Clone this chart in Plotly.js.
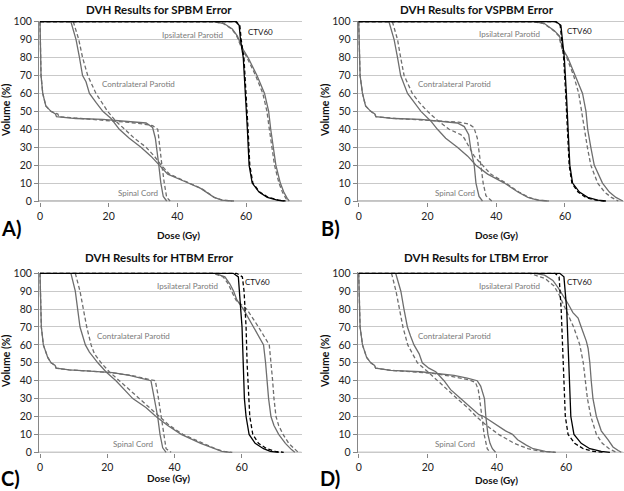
<!DOCTYPE html>
<html><head><meta charset="utf-8">
<script src="https://cdn.plot.ly/plotly-3.0.1.min.js"></script>
<style>html,body{margin:0;padding:0;background:#fff}#chart{width:624px;height:491px}</style>
</head><body><div id="chart"></div>
<script>
// ---------- text ----------
const titles = ['DVH Results for SPBM Error', 'DVH Results for VSPBM Error', 'DVH Results for HTBM Error', 'DVH Results for LTBM Error'];
const panelLabels = ['A)', 'B)', 'C)', 'D)'];
const organNames = ['Ipsilateral Parotid', 'CTV60', 'Contralateral Parotid', 'Spinal Cord'];
const xTitle = 'Dose (Gy)';
const yTitle = 'Volume (%)';
const yTicks = [0, 10, 20, 30, 40, 50, 60, 70, 80, 90, 100];
const xTicks = [0, 20, 40, 60];

// ---------- A) SPBM ----------
const spbmCordPlanDose = [0, 0.3, 0.8, 1.7, 3.2, 4.5, 4.8, 10.5, 18.3, 26, 30.9, 32.8, 33.6, 34.6, 35.2, 35.9, 36.9];
const spbmCordPlanVol  = [100, 70, 60, 53, 50, 48.5, 47, 46, 45.5, 44.5, 43.5, 41, 35, 20, 10, 2.5, 0];
const spbmCordErrDose  = [0, 0.3, 0.8, 1.7, 3.2, 5.2, 5.5, 12.5, 19.5, 25, 29.9, 32.8, 34.3, 34.8, 35.5, 36.2, 36.9, 37.9];
const spbmCordErrVol   = [100, 70, 60, 53, 50, 48.5, 47, 46, 45, 44, 43, 42, 40, 30, 20, 10, 2, 0];
const spbmContraPlanDose = [9, 10.5, 11.5, 12.4, 13.4, 14.4, 16.3, 18.3, 20.7, 23.1, 26, 29.4, 32.3, 34.8, 37.2, 42, 46.8, 50.7, 53, 56];
const spbmContraPlanVol  = [100, 90, 80, 70, 66.5, 60, 55, 50, 46, 40, 35, 30, 25, 20, 15, 11, 7, 2, 0.5, 0];
const spbmContraErrDose  = [9.7, 11.3, 12.4, 13.9, 16.3, 19.7, 22.1, 24.6, 27.5, 30.9, 33.3, 35.3, 37.7, 42.3, 47, 50.8, 53.2, 56.5];
const spbmContraErrVol   = [100, 90, 80, 70, 60, 50, 44.5, 40, 35, 30, 25, 20, 15, 11, 7, 2, 0.5, 0];
const spbmIpsiPlanDose = [0, 50.7, 53.6, 56, 57.5, 59, 60.6, 63.2, 65.4, 66.6, 67.2, 67.9, 68.7, 70, 71, 72, 72.6];
const spbmIpsiPlanVol  = [100, 100, 99, 96, 92, 85, 80, 70, 60, 50, 40, 30, 20, 10, 5, 1.5, 0];
const spbmIpsiErrDose  = [0, 50.5, 53.4, 55.8, 57.3, 58.8, 60.3, 62.8, 64.9, 66.1, 66.8, 67.5, 68.3, 69.6, 70.6, 71.6, 72.3];
const spbmIpsiErrVol   = [100, 100, 99, 96, 92, 85, 80, 70, 60, 50, 40, 30, 20, 10, 5, 1.5, 0];
const spbmCtvPlanDose = [0, 57, 58, 58.4, 59.2, 59.9, 60.4, 60.9, 61.8, 63.8, 66.2, 69.1, 71];
const spbmCtvPlanVol  = [100, 100, 98, 90, 80, 60, 40, 20, 10, 5, 2, 0.5, 0];
const spbmCtvErrDose  = [0, 57.2, 58.2, 58.6, 59.4, 60.1, 60.6, 61.1, 62, 64, 66.5, 69.5, 71.5];
const spbmCtvErrVol   = [100, 100, 98, 90, 80, 60, 40, 20, 10, 5, 2, 0.5, 0];

// ---------- B) VSPBM ----------
const vspbmCordPlanDose = [0, 0.4, 1.1, 2, 3.5, 4.7, 5, 10.3, 18, 23.9, 28.7, 30.7, 32, 32.6, 33.6, 34.1, 35, 36];
const vspbmCordPlanVol  = [100, 70, 60, 53, 50, 48.5, 47, 46, 45.5, 44.5, 43.5, 41.5, 37, 29, 20, 10, 2.5, 0];
const vspbmCordErrDose  = [0, 0.4, 1.1, 2, 3.5, 4.7, 5, 11, 20, 26, 29, 32, 33.5, 34.5, 35, 35.5, 36.2, 37, 38.7];
const vspbmCordErrVol   = [100, 70, 60, 53, 50, 48.5, 47, 46, 45, 44.5, 44, 43, 41, 35, 28, 20, 10, 3, 0];
const vspbmContraPlanDose = [8.8, 10.3, 11.3, 12.2, 14.2, 16.1, 18.1, 21, 22.9, 25.3, 28.7, 31.7, 34.1, 37.5, 42.4, 46.3, 49.2, 52, 55];
const vspbmContraPlanVol  = [100, 90, 80, 70, 60, 55, 50, 44.5, 40, 35, 30, 25, 20, 15, 10, 5, 2, 0.5, 0];
const vspbmContraErrDose  = [9.8, 11.3, 12.2, 13.2, 15.6, 17.6, 20, 22.9, 26.3, 29.7, 30.7, 32.1, 33.6, 36, 38.4, 42.8, 46.6, 49.5, 52.3, 55.3];
const vspbmContraErrVol   = [100, 90, 80, 70, 60, 55, 50, 45, 40, 37, 35, 30, 25, 20, 15, 10, 5, 2, 0.5, 0];
const vspbmIpsiPlanDose = [0, 51, 54, 56.9, 58.4, 59.3, 60.8, 62.9, 65.1, 66.1, 66.6, 67.5, 68.5, 70.9, 72.9, 74.8, 76.2, 76.8];
const vspbmIpsiPlanVol  = [100, 100, 99, 95, 92, 85, 80, 70, 60, 50, 40, 30, 20, 10, 5, 2, 0.5, 0];
const vspbmIpsiErrDose  = [0, 50.8, 53.8, 56.7, 58.2, 59.1, 60.5, 62.5, 64, 64.8, 65.5, 66.5, 67.5, 69.5, 71.5, 73.5, 75, 75.5];
const vspbmIpsiErrVol   = [100, 100, 99, 95, 92, 85, 80, 70, 60, 50, 40, 30, 20, 10, 5, 2, 0.5, 0];
const vspbmCtvPlanDose = [0, 57.4, 58.8, 59.3, 59.8, 60.4, 60.8, 61.4, 62.2, 64.2, 66.6, 69.5, 71.9];
const vspbmCtvPlanVol  = [100, 100, 98, 90, 80, 60, 40, 20, 10, 5, 2, 0.5, 0];
const vspbmCtvErrDose  = [0, 57.2, 58.6, 59.1, 59.6, 60.2, 60.6, 61.2, 62, 63.8, 66, 69, 71.5];
const vspbmCtvErrVol   = [100, 100, 98, 90, 80, 60, 40, 20, 10, 5, 2, 0.5, 0];

// ---------- C) HTBM ----------
const htbmCordPlanDose = [0, 0.4, 1, 2.3, 3.3, 4.5, 4.8, 8.7, 13.7, 21.6, 26.6, 31.5, 33, 33.7, 35, 35.7, 36.5, 37.5];
const htbmCordPlanVol  = [100, 70, 60, 53, 50, 48.5, 47, 46, 45.5, 44.5, 43, 41, 40, 33, 20, 10, 2.5, 0];
const htbmCordErrDose  = [0, 0.4, 1, 2.3, 3.3, 4.5, 4.8, 8.7, 13.7, 21, 27, 32, 34.3, 35, 36, 36.8, 37.5, 39];
const htbmCordErrVol   = [100, 70, 60, 53, 50, 48.5, 47, 46, 45.5, 44.5, 43, 41, 40, 33, 20, 10, 2, 0];
const htbmContraPlanDose = [9.2, 10.5, 11.2, 11.9, 13.5, 14.7, 17.2, 19.6, 22.6, 25.1, 27.6, 31.5, 34.5, 38, 42, 47.8, 51.7, 54.1, 56.6];
const htbmContraPlanVol  = [100, 90, 80, 70, 60, 56, 50, 45, 40, 35, 30, 25, 20, 15, 10, 5, 2, 0.5, 0];
const htbmContraErrDose  = [10.5, 11.9, 12.9, 13.9, 15.2, 16.2, 18.2, 20.6, 23.6, 26.6, 29.6, 32.5, 35.5, 38.5, 42.5, 48.3, 52.2, 54.6, 57.2];
const htbmContraErrVol   = [100, 90, 80, 70, 60, 55, 50, 45, 40, 35, 30, 25, 20, 15, 10, 5, 2, 0.5, 0];
const htbmIpsiPlanDose = [0, 52, 55, 56.5, 57.6, 58.6, 60.5, 63.6, 66.5, 67.1, 67.5, 68, 68.7, 69.6, 71, 73, 74.8, 75.8];
const htbmIpsiPlanVol  = [100, 100, 98, 94, 90, 85, 80, 70, 60, 50, 40, 30, 20, 15, 10, 5, 1.5, 0];
const htbmIpsiErrDose  = [0, 51.5, 54.5, 56, 57, 58.3, 61.5, 65, 68.2, 68.8, 69.2, 69.6, 70.2, 71, 72.3, 74, 75.8, 76.8];
const htbmIpsiErrVol   = [100, 100, 98, 94, 90, 85, 80, 70, 60, 50, 40, 30, 20, 15, 10, 5, 1.5, 0];
const htbmCtvPlanDose = [0, 57.5, 59, 59.4, 59.7, 60.1, 60.4, 60.8, 61.3, 62.2, 64, 66.5, 68.5, 71];
const htbmCtvPlanVol  = [100, 100, 98, 90, 80, 70, 50, 30, 20, 10, 5, 2, 0.5, 0];
const htbmCtvErrDose  = [0, 58.5, 60.2, 60.7, 61, 61.3, 61.6, 62, 62.4, 63.3, 65, 67.5, 70, 72.5];
const htbmCtvErrVol   = [100, 100, 98, 90, 80, 70, 50, 30, 20, 10, 5, 2, 0.5, 0];

// ---------- D) LTBM ----------
const ltbmCordPlanDose = [0, 0.4, 1.1, 2.3, 3.5, 4.6, 4.9, 9.3, 17.9, 22.8, 27.6, 31.4, 34.3, 35.3, 36.4, 36.8, 37.4, 38, 38.7, 39.6];
const ltbmCordPlanVol  = [100, 70, 60, 53, 50, 48.5, 47, 45.8, 45, 44.2, 43, 41.5, 40, 37, 30, 20, 10, 5, 2, 0];
const ltbmCordErrDose  = [0, 0.4, 1.1, 2.3, 3.5, 4.6, 4.9, 9.3, 15, 22, 28, 32, 33.8, 34.6, 35, 35.6, 36.3, 37.2, 38];
const ltbmCordErrVol   = [100, 70, 60, 53, 50, 48.5, 47, 45.8, 45, 44, 42, 40.5, 39, 35, 30, 20, 10, 2, 0];
const ltbmContraPlanDose = [10.7, 12.2, 13.1, 14.1, 15, 16, 17.5, 18.4, 20.3, 22.3, 24.7, 26.6, 29.5, 32.4, 34.8, 36.2, 37.4, 40, 42.5, 44.5, 46, 48.5, 50.5, 54, 57];
const ltbmContraPlanVol  = [100, 90, 80, 70, 65, 60, 55, 50, 47, 45, 40, 35, 30, 25, 21, 20, 18.5, 15, 12, 10, 7, 4, 2, 0.5, 0];
const ltbmContraErrDose  = [9.5, 10.8, 11.8, 12.8, 14.2, 15.5, 17, 20, 22.8, 25.5, 28.5, 31.5, 34, 37, 40.5, 45, 49, 53, 57];
const ltbmContraErrVol   = [100, 90, 80, 70, 60, 55, 50, 45, 40, 35, 30, 25, 20, 15, 10, 5, 2, 0.5, 0];
const ltbmIpsiPlanDose = [0, 50.9, 53.8, 56.2, 57.7, 59.1, 60.6, 62, 63.5, 64.4, 65.9, 66.4, 66.9, 67.3, 67.8, 68.8, 70.2, 72.2, 73.6, 75.1, 76];
const ltbmIpsiPlanVol  = [100, 100, 99, 96, 92, 88, 83, 78, 75, 70, 62, 58, 50, 40, 30, 20, 12, 7, 3, 1, 0];
const ltbmIpsiErrDose  = [0, 49.5, 54, 56.5, 58, 59.8, 62.2, 64, 65, 65.6, 66.2, 67.2, 68.8, 70.5, 72.5, 74.5];
const ltbmIpsiErrVol   = [100, 100, 97, 93, 88, 80, 70, 60, 50, 40, 30, 20, 10, 5, 2, 0];
const ltbmCtvPlanDose = [0, 58.2, 59.4, 59.8, 60.2, 60.6, 60.9, 61.4, 62.3, 64.4, 66.9, 70.2, 72.7];
const ltbmCtvPlanVol  = [100, 100, 98, 90, 80, 60, 40, 20, 10, 5, 2, 0.5, 0];
const ltbmCtvErrDose  = [0, 56.8, 58, 58.3, 58.6, 59, 59.3, 59.8, 60.6, 62.5, 65, 68, 71];
const ltbmCtvErrVol   = [100, 100, 98, 90, 80, 60, 40, 20, 10, 5, 2, 0.5, 0];

// curve-label anchor points (data coords): [dose, volume] per organ name, per panel
const labelPosA = [[44.4, 92.8], [64.3, 94], [28.7, 65], [28.6, 4.6]];
const labelPosB = [[43.9, 93.2], [64.1, 95], [27.8, 65.4], [28, 4.6]];
const labelPosC = [[44, 93], [64.7, 95], [27.7, 65.1], [27.8, 4.5]];
const labelPosD = [[43.7, 93], [63.9, 95], [27.7, 65.1], [28, 4.5]];

// ---------- build ----------
const W = 624, H = 491;
const FONT = 'Lato, "Open Sans", Arial, sans-serif';
const GRAY = '#6e6e6e', BLACK = '#000000', AXIS = '#868686', GRID = '#c9c9c9';

const panelData = [
  [[spbmIpsiPlanDose, spbmIpsiPlanVol, spbmIpsiErrDose, spbmIpsiErrVol],
   [spbmContraPlanDose, spbmContraPlanVol, spbmContraErrDose, spbmContraErrVol],
   [spbmCordPlanDose, spbmCordPlanVol, spbmCordErrDose, spbmCordErrVol],
   [spbmCtvPlanDose, spbmCtvPlanVol, spbmCtvErrDose, spbmCtvErrVol]],
  [[vspbmIpsiPlanDose, vspbmIpsiPlanVol, vspbmIpsiErrDose, vspbmIpsiErrVol],
   [vspbmContraPlanDose, vspbmContraPlanVol, vspbmContraErrDose, vspbmContraErrVol],
   [vspbmCordPlanDose, vspbmCordPlanVol, vspbmCordErrDose, vspbmCordErrVol],
   [vspbmCtvPlanDose, vspbmCtvPlanVol, vspbmCtvErrDose, vspbmCtvErrVol]],
  [[htbmIpsiPlanDose, htbmIpsiPlanVol, htbmIpsiErrDose, htbmIpsiErrVol],
   [htbmContraPlanDose, htbmContraPlanVol, htbmContraErrDose, htbmContraErrVol],
   [htbmCordPlanDose, htbmCordPlanVol, htbmCordErrDose, htbmCordErrVol],
   [htbmCtvPlanDose, htbmCtvPlanVol, htbmCtvErrDose, htbmCtvErrVol]],
  [[ltbmIpsiPlanDose, ltbmIpsiPlanVol, ltbmIpsiErrDose, ltbmIpsiErrVol],
   [ltbmContraPlanDose, ltbmContraPlanVol, ltbmContraErrDose, ltbmContraErrVol],
   [ltbmCordPlanDose, ltbmCordPlanVol, ltbmCordErrDose, ltbmCordErrVol],
   [ltbmCtvPlanDose, ltbmCtvPlanVol, ltbmCtvErrDose, ltbmCtvErrVol]]
];
const labelPos = [labelPosA, labelPosB, labelPosC, labelPosD];

// pixel geometry of each panel (layout only)
const geo = [
  {x0: 40, x60: 246, xr: 302, y0: 201, y100: 21.7, t: [158.5, 10], yt: [6, 111], xt: [178, 235], l: [11, 228]},
  {x0: 358.7, x60: 565, xr: 623.5, y0: 201, y100: 21.7, t: [477, 10], yt: [325, 111], xt: [497, 235], l: [330, 228]},
  {x0: 40, x60: 241.7, xr: 301.7, y0: 452.3, y100: 273.3, t: [159, 257], yt: [6, 362], xt: [168, 478], l: [10, 478]},
  {x0: 358.7, x60: 566, xr: 623.5, y0: 452.3, y100: 273.3, t: [476, 257], yt: [325, 362], xt: [497, 480], l: [330, 478]}
];

const traces = [];
const layout = {
  width: W, height: H, margin: {l: 0, r: 0, t: 0, b: 0},
  paper_bgcolor: '#fff', plot_bgcolor: '#fff', showlegend: false,
  font: {family: FONT, size: 10.5, color: '#222'},
  annotations: [], shapes: []
};
const XL = -0.3, YB = -0.6, YT = 100.6;

geo.forEach((g, i) => {
  const n = i + 1;
  const xs = n === 1 ? 'x' : 'x' + n, ys = n === 1 ? 'y' : 'y' + n;
  const sx = (g.x60 - g.x0) / 60;
  const sy = (g.y0 - g.y100) / 100;
  const xmax = (g.xr - g.x0) / sx;
  const left = g.x0 + XL * sx, right = g.xr;
  const bottom = g.y0 - YB * sy, top = g.y100 - (YT - 100) * sy;
  layout['xaxis' + (n === 1 ? '' : n)] = {
    domain: [left / W, right / W], range: [XL, xmax], anchor: ys,
    tickvals: xTicks, ticks: 'outside', ticklen: 4, tickcolor: AXIS,
    showgrid: false, zeroline: false, showline: false,
    tickfont: {family: FONT, size: 10.5, color: '#222'}
  };
  layout['yaxis' + (n === 1 ? '' : n)] = {
    domain: [1 - bottom / H, 1 - top / H], range: [YB, YT], anchor: xs,
    tickvals: yTicks, ticks: 'outside', ticklen: 4, tickcolor: AXIS,
    showgrid: true, gridcolor: GRID, gridwidth: 1, zeroline: false,
    showline: true, linecolor: AXIS, linewidth: 1,
    tickfont: {family: FONT, size: 10.5, color: '#222'}
  };
  // horizontal axis line at 0
  layout.shapes.push({type: 'line', xref: xs, yref: ys, x0: XL, x1: xmax, y0: 0, y1: 0,
    line: {color: AXIS, width: 1}, layer: 'below'});

  const curves = panelData[i];
  curves.forEach((c, k) => {
    const col = k === 3 ? BLACK : GRAY;
    traces.push({x: c[0], y: c[1], xaxis: xs, yaxis: ys, type: 'scatter', mode: 'lines',
      line: {color: col, width: 1.3}, hoverinfo: 'skip'});
    traces.push({x: c[2], y: c[3], xaxis: xs, yaxis: ys, type: 'scatter', mode: 'lines',
      line: {color: col, width: 1.3, dash: '4px,2.5px'}, hoverinfo: 'skip'});
  });

  const P = (px, py) => [px / W, 1 - py / H];
  const ann = (pos, text, font, extra) => {
    const p = P(pos[0], pos[1]);
    layout.annotations.push(Object.assign({xref: 'paper', yref: 'paper', x: p[0], y: p[1],
      xanchor: 'center', yanchor: 'middle', showarrow: false, text: text, font: font}, extra || {}));
  };
  ann(g.t, '<b>' + titles[i] + '</b>', {family: FONT, size: 11.5, color: '#111'});
  ann(g.yt, '<b>' + yTitle + '</b>', {family: FONT, size: 10.5, color: '#111'}, {textangle: -90});
  ann(g.xt, '<b>' + xTitle + '</b>', {family: FONT, size: 10, color: '#111'});
  ann(g.l, '<b>' + panelLabels[i] + '</b>', {family: FONT, size: 20, color: '#000'});

  labelPos[i].forEach((lp, k) => {
    layout.annotations.push({xref: xs, yref: ys, x: lp[0], y: lp[1], showarrow: false,
      xanchor: 'center', yanchor: 'middle', text: organNames[k],
      font: {family: FONT, size: 8, color: k === 1 ? '#111' : '#7a7a7a'}});
  });
});

Plotly.newPlot('chart', traces, layout, {staticPlot: true, displayModeBar: false});
</script></body></html>
